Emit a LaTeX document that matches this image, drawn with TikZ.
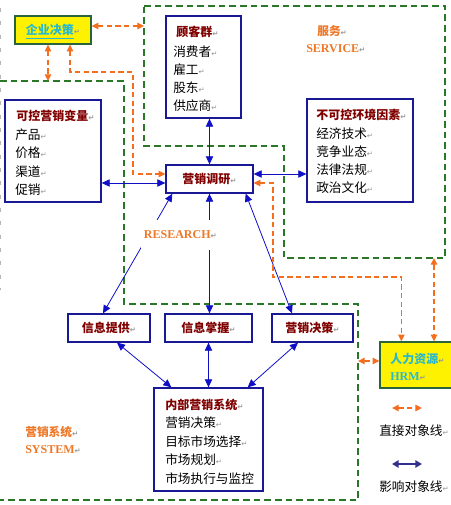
\documentclass[tikz,border=0pt]{standalone}
\usepackage{fontspec}
\setmainfont{Liberation Serif}
\newfontfamily\cjk{Noto Sans CJK SC}
\newfontfamily\symf{DejaVu Sans}
\usetikzlibrary{arrows.meta,fit}
\definecolor{boxblue}{RGB}{25,25,150}
\definecolor{linkblue}{RGB}{15,15,200}
\definecolor{navy}{RGB}{50,50,140}
\definecolor{darkred}{RGB}{128,0,0}
\definecolor{orangetxt}{RGB}{238,120,40}
\definecolor{orangeline}{RGB}{245,110,30}
\definecolor{regiongreen}{RGB}{40,120,40}
\definecolor{ygreen}{RGB}{40,100,60}
\definecolor{tealtxt}{RGB}{40,185,205}
\definecolor{pmgray}{RGB}{150,150,150}
\newcommand\pmk{{\symf\fontsize{5.5}{6}\selectfont\textcolor{pmgray}{↵}}}
\begin{document}
\begin{tikzpicture}[x=0.75pt,y=-0.75pt,
  box/.style={draw=boxblue, line width=1pt, inner sep=0pt},
  ybox/.style={draw=ygreen, fill=yellow, line width=1pt, inner sep=0pt},
  ttl/.style={font=\cjk\bfseries\fontsize{9}{11}\selectfont, text=darkred, inner sep=0pt},
  itm/.style={font=\cjk\fontsize{9.5}{11}\selectfont, text=black, inner sep=0pt},
  tlab/.style={font=\cjk\bfseries\fontsize{9}{11}\selectfont, text=tealtxt, inner sep=0pt},
  tlabE/.style={font=\bfseries\fontsize{9}{11}\selectfont, text=tealtxt, inner sep=0pt},
  olab/.style={font=\cjk\bfseries\fontsize{8.8}{11}\selectfont, text=orangetxt, inner sep=0pt},
  elab/.style={font=\bfseries\fontsize{9}{11}\selectfont, text=orangetxt, inner sep=0pt},
  barrow/.style={draw=linkblue, line width=0.6pt, >={Triangle[length=6pt,width=5.5pt]}, <->},
  narrow/.style={draw=navy, line width=1.3pt, >={Triangle[length=5pt,width=5.5pt]}, <->},
  oarrow/.style={draw=orangeline, line width=0.9pt, dash pattern=on 4pt off 2.5pt, >={Triangle[length=5pt,width=4.8pt]}, <->},
  region/.style={draw=regiongreen, line width=0.8pt, dash pattern=on 5pt off 3pt}
]
\useasboundingbox (0,0) rectangle (450,505);

% Word text-boundary marks on the left edge
\draw[pmgray!70, line width=0.8pt, dash pattern=on 3pt off 7pt] (0.6,8) -- (0.6,290);

% dashed regions
\draw[region] (144,6) -- (445,6) -- (445,258) -- (284,258) -- (284,146) -- (144,146) -- cycle;
\draw[region] (0,81) -- (124,81) -- (124,304) -- (358,304) -- (358,500) -- (0,500);

% boxes
\node[ybox, fit={(15,16)(91,44)}] (qy) {};
\node[tlab, anchor=base] (qyt) at ([yshift=-3.6pt]qy.center) {\underline{企业决策}\pmk};

\node[box, fit={(166,16)(241,118)}] (gkq) {};
\node[ttl, anchor=base west] (gkq0) at (176,37) {顾客群\pmk};
\foreach \t/\yy [count=\i] in {消费者/52, 雇工/70, 股东/88, 供应商/106}
  \node[itm, anchor=base west] (gkq\i) at (173,\yy+5) {\t\pmk};

\node[box, fit={(5,100)(101,202)}] (kk) {};
\node[ttl, anchor=base west] (kk0) at (16,121) {可控营销变量\pmk};
\foreach \t/\yy [count=\i] in {产品/135, 价格/153, 渠道/172, 促销/190}
  \node[itm, anchor=base west] (kk\i) at (15,\yy+5) {\t\pmk};

\node[box, fit={(166,165)(253,193)}] (dy) {};
\node[ttl, anchor=base] (dyt) at ([yshift=-3.6pt]dy.center) {营销调研\pmk};

\node[box, fit={(307,99)(413,202)}] (bk) {};
\node[ttl, anchor=base west] (bk0) at (316,120) {不可控环境因素\pmk};
\foreach \t/\yy [count=\i] in {经济技术/134, 竞争业态/152, 法律法规/170, 政治文化/188}
  \node[itm, anchor=base west] (bk\i) at (316,\yy+5) {\t\pmk};

\node[box, fit={(68,314)(150,342)}] (xt) {};
\node[ttl, anchor=base] (xtt) at ([yshift=-3.6pt]xt.center) {信息提供\pmk};
\node[box, fit={(165,314)(252,342)}] (xz) {};
\node[ttl, anchor=base] (xzt) at ([yshift=-3.6pt]xz.center) {信息掌握\pmk};
\node[box, fit={(272,314)(353,342)}] (jc) {};
\node[ttl, anchor=base] (jct) at ([yshift=-3.6pt]jc.center) {营销决策\pmk};

\node[box, fit={(154,388)(263,491)}] (nb) {};
\node[ttl, anchor=base west] (nb0) at (165,409) {内部营销系统\pmk};
\node[itm, anchor=base west] (nb1) at (165,427) {营销决策\pmk};
\node[itm, anchor=base west] (nb2) at (165,446) {目标市场选择\pmk};
\node[itm, anchor=base west] (nb3) at (165,464) {市场规划\pmk};
\node[itm, anchor=base west] (nb4) at (165,483) {市场执行与监控};

\node[ybox, fit={(380,342)(452,388)}] (hr) {};
\node[tlab, anchor=base west] (hr1) at (390,363) {人力资源\pmk};
\node[tlabE, anchor=base west] (hr2) at (390,380) {HRM\pmk};

% labels
\node[olab, anchor=base west] (fw) at (317,36) {服务\pmk};
\node[elab, anchor=base west] (svc) at (306,53) {SERVICE\pmk};
\node[olab, anchor=base west] (yxs) at (25,436) {营销系统\pmk};
\node[elab, anchor=base west] (sys) at (25,453) {SYSTEM\pmk};

% helper coordinates
\coordinate (dyWo) at ([yshift=3.75pt]dy.west);
\coordinate (dyWb) at ([yshift=-3pt]dy.west);
\coordinate (dyEb) at ([yshift=3.75pt]dy.east);
\coordinate (dyEo) at ([yshift=-3pt]dy.east);

% blue connectors
\draw[barrow] (dy.north |- gkq.south) -- (dy.north);
\draw[barrow] (kk.east |- dyWb) -- (dyWb);
\draw[barrow] (dyEb) -- (bk.west |- dyEb);
\draw[barrow] ([xshift=5.25pt]dy.south west) -- ([xshift=-4.5pt]xt.north);
\draw[barrow] (dy.south) -- (dy.south |- xz.north);
\draw[barrow] ([xshift=-6pt]dy.south east) -- ([xshift=-15.4pt]jc.north);
\draw[barrow] ([xshift=6pt]xt.south) -- ([xshift=13.5pt]nb.north west);
\draw[barrow] (xz.south) -- (xz.south |- nb.north);
\draw[barrow] ([xshift=-10.9pt]jc.south) -- ([xshift=-12pt]nb.north east);

% orange connectors
\coordinate (svcL) at (144,26);
\draw[oarrow] (qy.east |- svcL) -- (svcL);
\coordinate (sysT) at (48,81);
\draw[oarrow] (sysT |- qy.south) -- (sysT);
\coordinate (o3a) at (70,72);
\draw[oarrow] (o3a |- qy.south) -- (o3a) -- (133,72) |- (dyWo);
\coordinate (o4a) at (273,277);
\coordinate (hrN1) at ([xshift=16.5pt]hr.north west);
\draw[oarrow] (dyEo) -| (o4a) -| (hrN1);
\coordinate (svcB) at (434,258);
\draw[oarrow] (svcB) -- (svcB |- hr.north);
\coordinate (sysR) at (358,361);
\draw[oarrow] (sysR) -- (hr.west |- sysR);

% RESEARCH label over the lines
\node[elab, anchor=west, fill=white, minimum height=22pt, inner xsep=2pt] (rs) at (141,235) {RESEARCH\pmk};

% legend
\coordinate (l1a) at (392,408); \coordinate (l1b) at (422,408);
\draw[oarrow] (l1a) -- (l1b);
\node[itm, anchor=base west] (l1t) at (379,435) {直接对象线\pmk};
\coordinate (l2a) at (392,464); \coordinate (l2b) at (422,464);
\draw[narrow] (l2a) -- (l2b);
\node[itm, anchor=base west] (l2t) at (379,491) {影响对象线\pmk};
\end{tikzpicture}
\end{document}
